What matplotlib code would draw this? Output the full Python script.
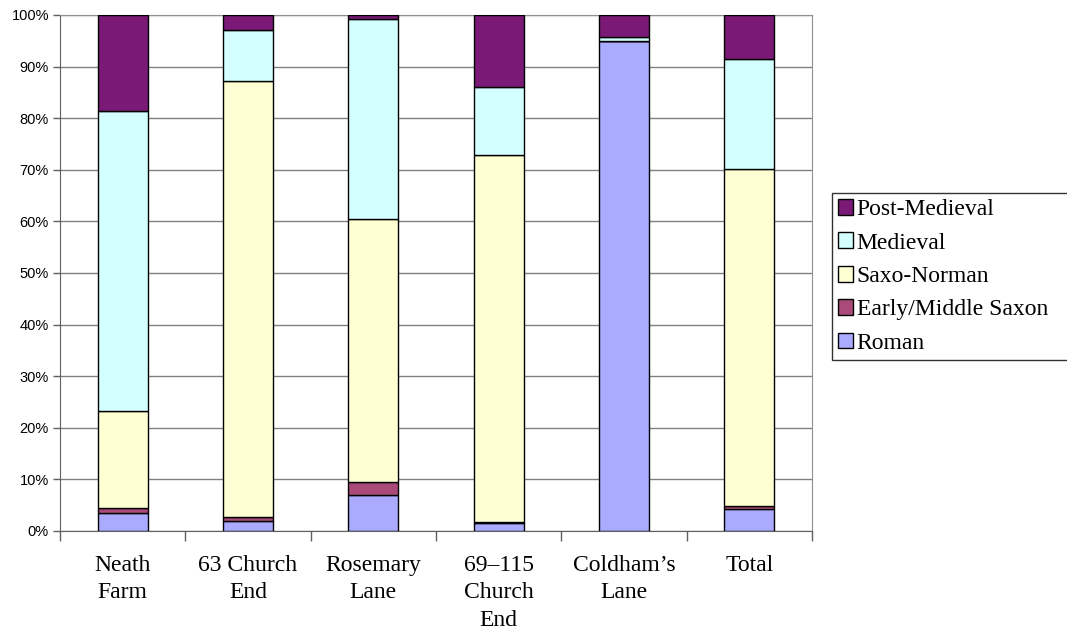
import matplotlib.pyplot as plt
import numpy as np
from matplotlib.ticker import FuncFormatter, FixedLocator, NullFormatter

sites = ["Neath\nFarm", "63 Church\nEnd", "Rosemary\nLane", "69\u2013115\nChurch\nEnd",
         "Coldham\u2019s\nLane", "Total"]
periods = ["Roman", "Early/Middle Saxon", "Saxo-Norman", "Medieval", "Post-Medieval"]

roman = [3.5, 2.0, 7.0, 1.6, 94.9, 4.3]
early_middle_saxon = [0.9, 0.7, 2.5, 0.1, 0.0, 0.6]
saxo_norman = [18.8, 84.5, 51.0, 71.2, 0.0, 65.2]
medieval = [58.2, 9.8, 38.8, 13.1, 0.9, 21.4]
post_medieval = [18.6, 3.0, 0.7, 14.0, 4.2, 8.5]

colours = ["#aaaaff", "#a94a78", "#ffffd4", "#d4ffff", "#7b1a76"]

series = [roman, early_middle_saxon, saxo_norman, medieval, post_medieval]

fig = plt.figure(figsize=(10.67, 6.35), dpi=100)
ax = fig.add_axes([60 / 1067, 104 / 635, 752 / 1067, 516 / 635])

x = np.arange(len(sites))
bottom = np.zeros(len(sites))
handles = []
for vals, name, col in zip(series, periods, colours):
    h = ax.bar(x, vals, width=0.4, bottom=bottom, color=col, edgecolor="black",
               linewidth=1.0, label=name, zorder=3)
    handles.append(h)
    bottom += np.array(vals)

ax.set_xlim(-0.5, len(sites) - 0.5)
ax.set_ylim(0, 100)
ax.set_yticks(np.arange(0, 101, 10))
ax.yaxis.set_major_formatter(FuncFormatter(lambda v, p: f"{int(v)}%"))
ax.grid(axis="y", color="#808080", linewidth=1.0, zorder=0)

# category labels centred, tick marks on the boundaries
ax.xaxis.set_major_locator(FixedLocator(np.arange(-0.5, len(sites), 1.0)))
ax.xaxis.set_major_formatter(NullFormatter())
ax.tick_params(axis="x", length=7, width=1.0, color="#606060", direction="out")
for xi, lab in zip(x, sites):
    ax.text(xi, -4.6, lab, ha="center", va="top", fontsize=17,
            family="Liberation Serif", linespacing=1.42)

for lab in ax.get_yticklabels():
    lab.set_family("Liberation Sans")
    lab.set_fontsize(10.5)
ax.tick_params(axis="y", length=5, width=1.0, color="#606060", pad=3)

for s in ["top", "right"]:
    ax.spines[s].set_color("#909090")
ax.spines["left"].set_color("#606060")
ax.spines["bottom"].set_color("#606060")

leg = fig.legend(handles[::-1], periods[::-1], loc="upper left",
                 bbox_to_anchor=(832 / 1067, 1 - 358 / 635, 250 / 1067, 165 / 635),
                 mode="expand",
                 prop={"family": "Liberation Serif", "size": 17},
                 frameon=True, fancybox=False, edgecolor="black",
                 handlelength=0.65, handleheight=0.65, handletextpad=0.15,
                 labelspacing=0.52, borderaxespad=0, borderpad=0.25)
leg.get_frame().set_linewidth(1.0)

fig.savefig("out.png", dpi=100)
